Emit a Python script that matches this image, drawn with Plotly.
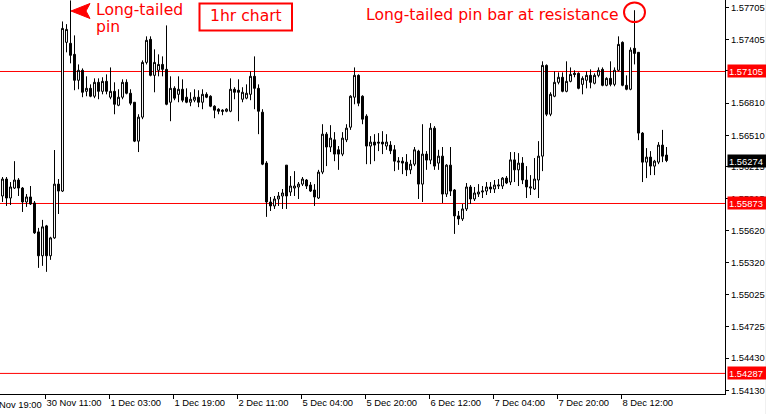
import plotly.graph_objects as go

# ---------------- data (1-hour candles) ----------------
opens = [1.55943,1.56101,1.55924,1.56017,1.56092,1.56017,1.55887,1.55934,1.55878,1.55608,
1.55385,1.55664,1.55385,1.55552,1.56054,1.55989,1.57377,1.57368,1.57265,1.57023,
1.57116,1.56920,1.56948,1.56874,1.57004,1.56920,1.57013,1.56865,1.56920,1.56790,
1.56865,1.57004,1.56902,1.56818,1.56455,1.56679,1.57190,1.57405,1.57069,1.57116,
1.57171,1.57125,1.56818,1.56948,1.56892,1.56939,1.56865,1.56818,1.56837,1.56865,
1.56818,1.56892,1.56874,1.56781,1.56753,1.56744,1.56734,1.56734,1.56939,1.56930,
1.56846,1.56856,1.56892,1.57060,1.56948,1.56725,1.56250,1.55887,1.55850,1.55915,
1.55943,1.56231,1.55980,1.56017,1.56027,1.56054,1.56092,1.56045,1.55999,1.55924,
1.56166,1.56520,1.56400,1.56467,1.56374,1.56334,1.56467,1.56585,1.56865,1.57069,
1.56874,1.56688,1.56409,1.56446,1.56446,1.56446,1.56409,1.56418,1.56374,1.56259,
1.56268,1.56259,1.56187,1.56240,1.56362,1.56054,1.56334,1.56278,1.56576,1.56250,
1.56315,1.55961,1.56231,1.55999,1.55757,1.55729,1.55822,1.56027,1.55915,1.55961,
1.55980,1.55989,1.56027,1.56008,1.56036,1.56036,1.56110,1.56073,1.56280,1.56187,
1.56250,1.56092,1.56017,1.56008,1.56092,1.56315,1.57162,1.56706,1.56874,1.57004,
1.57051,1.56920,1.57013,1.57088,1.57088,1.56985,1.57023,1.57069,1.56995,1.57069,
1.57125,1.56976,1.57041,1.56985,1.57116,1.57377,1.56976,1.56939,1.57321,1.57284,
1.56530,1.56259,1.56306,1.56222,1.56259,1.56418,1.56325]
highs = [1.56120,1.56120,1.56073,1.56268,1.56110,1.56027,1.55961,1.56036,1.55896,1.55645,
1.55720,1.55673,1.55562,1.56372,1.56101,1.57572,1.57547,1.57768,1.57442,1.57171,
1.57134,1.57060,1.56985,1.57041,1.57041,1.57051,1.57078,1.57143,1.57004,1.56939,
1.57032,1.57032,1.56939,1.56818,1.56706,1.57209,1.57433,1.57433,1.57312,1.57265,
1.57246,1.57535,1.57060,1.56967,1.57060,1.57032,1.56948,1.56911,1.56939,1.56930,
1.56939,1.56911,1.56883,1.56790,1.56762,1.56753,1.56762,1.57041,1.56958,1.57032,
1.56958,1.56985,1.57106,1.57246,1.56985,1.56753,1.56268,1.55934,1.55943,1.55980,
1.56008,1.56231,1.56129,1.56175,1.56073,1.56120,1.56101,1.56073,1.56054,1.56187,
1.56613,1.56539,1.56604,1.56539,1.56409,1.56539,1.56613,1.56883,1.57143,1.57078,
1.56883,1.56706,1.56502,1.56520,1.56530,1.56548,1.56520,1.56455,1.56418,1.56306,
1.56306,1.56334,1.56280,1.56400,1.56374,1.56613,1.56362,1.56623,1.56595,1.56374,
1.56400,1.56240,1.56400,1.56008,1.55803,1.55868,1.56064,1.56045,1.56027,1.56054,
1.56036,1.56073,1.56073,1.56092,1.56101,1.56120,1.56129,1.56353,1.56353,1.56343,
1.56306,1.56222,1.56138,1.56297,1.56455,1.57200,1.57171,1.56911,1.57106,1.57097,
1.57097,1.57200,1.57143,1.57116,1.57097,1.57060,1.57106,1.57125,1.57088,1.57143,
1.57143,1.57051,1.57200,1.57143,1.57433,1.57386,1.57069,1.57330,1.57677,1.57284,
1.56539,1.56390,1.56362,1.56280,1.56446,1.56560,1.56400]
lows = [1.55887,1.55850,1.55859,1.56008,1.55943,1.55794,1.55841,1.55859,1.55589,1.55272,
1.55291,1.55235,1.55347,1.55543,1.55775,1.55980,1.57284,1.57181,1.56930,1.56939,
1.56865,1.56874,1.56865,1.56856,1.56846,1.56892,1.56892,1.56846,1.56706,1.56781,
1.56846,1.56892,1.56790,1.56446,1.56353,1.56660,1.57171,1.57060,1.56911,1.57060,
1.57060,1.56790,1.56641,1.56837,1.56818,1.56818,1.56809,1.56781,1.56818,1.56772,
1.56753,1.56856,1.56772,1.56669,1.56706,1.56697,1.56725,1.56725,1.56846,1.56641,
1.56818,1.56846,1.56837,1.56753,1.56520,1.56231,1.55748,1.55803,1.55822,1.55850,
1.55822,1.55822,1.55943,1.55943,1.55915,1.56036,1.56008,1.55980,1.55850,1.55915,
1.56147,1.56222,1.56353,1.56268,1.56187,1.56315,1.56446,1.56560,1.56799,1.56781,
1.56613,1.56240,1.56240,1.56268,1.56362,1.56334,1.56374,1.56334,1.56175,1.56187,
1.56147,1.56129,1.56147,1.56222,1.55915,1.55887,1.56187,1.56240,1.56187,1.56187,
1.55878,1.55934,1.55943,1.55589,1.55673,1.55710,1.55803,1.55868,1.55896,1.55934,
1.55924,1.55952,1.55971,1.55971,1.56008,1.56008,1.56054,1.56045,1.56073,1.56036,
1.56054,1.55924,1.55952,1.55999,1.55924,1.56175,1.56688,1.56688,1.56865,1.56985,
1.56911,1.56911,1.57004,1.57051,1.56939,1.56892,1.56948,1.56948,1.56985,1.57051,
1.56967,1.56967,1.56967,1.56967,1.57106,1.56967,1.56930,1.56930,1.57171,1.56464,
1.56073,1.56110,1.56138,1.56138,1.56240,1.56259,1.56259]
closes = [1.56101,1.55924,1.56027,1.56092,1.56017,1.55887,1.55934,1.55868,1.55599,1.55385,
1.55655,1.55385,1.55552,1.56054,1.55989,1.57507,1.57498,1.57256,1.57023,1.57116,
1.56911,1.56948,1.56874,1.57004,1.56920,1.57013,1.56920,1.56920,1.56799,1.56865,
1.57004,1.56902,1.56809,1.56455,1.56679,1.57190,1.57396,1.57069,1.57190,1.57171,
1.57125,1.56799,1.56948,1.56856,1.56939,1.56837,1.56818,1.56846,1.56865,1.56818,
1.56892,1.56865,1.56781,1.56744,1.56734,1.56734,1.56753,1.56939,1.56911,1.56911,
1.56911,1.56902,1.57060,1.56948,1.56734,1.56240,1.55887,1.55850,1.55915,1.55943,
1.55971,1.55943,1.56036,1.56036,1.56054,1.56101,1.56036,1.55989,1.55934,1.56166,
1.56520,1.56400,1.56483,1.56334,1.56334,1.56483,1.56576,1.56874,1.57069,1.56809,
1.56660,1.56409,1.56446,1.56418,1.56437,1.56428,1.56446,1.56365,1.56268,1.56268,
1.56250,1.56187,1.56240,1.56374,1.56054,1.56334,1.56278,1.56576,1.56222,1.56315,
1.55961,1.56231,1.55989,1.55757,1.55729,1.55822,1.56027,1.55915,1.55971,1.55980,
1.55989,1.56027,1.56008,1.56045,1.56045,1.56110,1.56064,1.56280,1.56187,1.56250,
1.56092,1.56027,1.56027,1.56101,1.56315,1.57162,1.56706,1.56892,1.57004,1.57051,
1.56920,1.57013,1.57078,1.57078,1.56948,1.57041,1.57069,1.57004,1.57069,1.57116,
1.56976,1.57041,1.56985,1.57116,1.57358,1.56976,1.56939,1.57305,1.57274,1.56530,
1.56259,1.56306,1.56222,1.56268,1.56418,1.56315,1.56274]

bars = list(range(len(opens)))

x_tick_labels = ["30 Nov 11:00", "1 Dec 03:00", "1 Dec 19:00", "2 Dec 11:00",
                 "5 Dec 04:00", "5 Dec 20:00", "6 Dec 12:00", "7 Dec 04:00",
                 "7 Dec 20:00", "8 Dec 12:00"]
x_tick_bars = [11, 27, 43, 59, 75, 91, 107, 123, 139, 155]
first_label = "29 Nov 19:00"
first_label_bar = -5

y_ticks = [1.57705, 1.57405, 1.57110, 1.56810, 1.56510, 1.56215, 1.55915,
           1.55620, 1.55320, 1.55025, 1.54725, 1.54430, 1.54130]
levels = [1.57105, 1.55873, 1.54287]
last_price = 1.56274
pin_bar = 158

# ---------------- layout geometry ----------------
W, H = 766, 414
PW, PH = 725, 394          # plot area in pixels
X_RANGE = [-0.625, 180.625]
Y_TOP = 1.577723
Y_RANGE = [Y_TOP - PH / 10714.0, Y_TOP]
RED = "#ff0000"
AX_FAMILY = "Liberation Sans, Arial, sans-serif"
AX_FONT = dict(family=AX_FAMILY, size=9.4, color="black")
TXT_FONT = dict(family="DejaVu Sans, Verdana, sans-serif", size=15.6, color=RED)

def px(xp):
    return xp / PW

def py(yp):
    return 1 - yp / PH

fig = go.Figure()
fig.add_trace(go.Candlestick(
    x=bars, open=opens, high=highs, low=lows, close=closes,
    increasing=dict(line=dict(color="black", width=1), fillcolor="white"),
    decreasing=dict(line=dict(color="black", width=1), fillcolor="black"),
    whiskerwidth=0, hoverinfo="skip", showlegend=False,
))

shapes = []
for lv in levels:
    shapes.append(dict(type="line", xref="paper", yref="y", x0=0, x1=1, y0=lv, y1=lv,
                       line=dict(color=RED, width=1), layer="below"))
# "1hr chart" box
shapes.append(dict(type="rect", xref="paper", yref="paper",
                   x0=px(199.5), x1=px(292), y0=py(3.5), y1=py(30.5),
                   line=dict(color=RED, width=2)))
# circle around the pin bar top
shapes.append(dict(type="circle", xref="paper", yref="paper",
                   x0=px(624), x1=px(645), y0=py(2.5), y1=py(22),
                   line=dict(color=RED, width=2)))
# arrow head pointing at the long-tailed pin
ax_tip, ay_tip = 71, 11
arrow_path = "M {},{} L {},{} L {},{} L {},{} Z".format(
    px(ax_tip), py(ay_tip), px(90), py(3.5), px(86), py(ay_tip), px(90), py(18.5))
shapes.append(dict(type="path", xref="paper", yref="paper", path=arrow_path,
                   fillcolor=RED, line=dict(color=RED, width=1)))
# window frame strip at the right
shapes.append(dict(type="rect", xref="paper", yref="paper",
                   x0=px(765), x1=px(770), y0=-0.2, y1=1.1,
                   fillcolor="#f0f0f0", line=dict(width=0)))

annotations = []
annotations.append(dict(xref="paper", yref="paper", x=px(94), y=py(10.5), text="Long-tailed",
                        showarrow=False, xanchor="left", yanchor="middle", font=TXT_FONT))
annotations.append(dict(xref="paper", yref="paper", x=px(94), y=py(27.5), text="pin",
                        showarrow=False, xanchor="left", yanchor="middle", font=TXT_FONT))
annotations.append(dict(xref="paper", yref="paper", x=px(208), y=py(16), text="1hr chart",
                        showarrow=False, xanchor="left", yanchor="middle", font=TXT_FONT))
annotations.append(dict(xref="paper", yref="paper", x=px(364), y=py(15),
                        text="Long-tailed pin bar at resistance",
                        showarrow=False, xanchor="left", yanchor="middle", font=TXT_FONT))
# price boxes on the right scale
for lv in levels:
    annotations.append(dict(xref="paper", yref="y", x=1, y=lv, xanchor="left", yanchor="middle",
                            xshift=2, text=f"{lv:.5f}", showarrow=False, bgcolor=RED,
                            width=36, height=10, borderpad=1, align="left",
                            font=dict(family=AX_FAMILY, size=9.4, color="white")))
annotations.append(dict(xref="paper", yref="y", x=1, y=last_price, xanchor="left",
                        yanchor="middle", xshift=2, text=f"{last_price:.5f}", showarrow=False,
                        bgcolor="black", width=36, height=10, borderpad=1, align="left",
                        font=dict(family=AX_FAMILY, size=9.4, color="white")))
# partially visible first time label
annotations.append(dict(xref="paper", yref="paper",
                        x=(first_label_bar - 0.25 - X_RANGE[0]) * 4 / PW, y=py(404),
                        xanchor="left", yanchor="middle", xshift=2, text=first_label,
                        showarrow=False, font=AX_FONT))

fig.update_layout(
    width=W, height=H,
    margin=dict(l=0, r=W - PW, t=0, b=H - PH, pad=0),
    paper_bgcolor="white", plot_bgcolor="white",
    shapes=shapes, annotations=annotations,
    showlegend=False, hovermode=False,
    xaxis=dict(range=X_RANGE, rangeslider=dict(visible=False), showgrid=False, zeroline=False,
               tickmode="array", tickvals=[b - 0.25 for b in x_tick_bars], ticktext=x_tick_labels,
               ticks="outside", ticklen=4, tickcolor="black", tickwidth=1,
               ticklabelposition="outside right",
               showline=True, linecolor="black", linewidth=1, tickfont=AX_FONT, fixedrange=True),
    yaxis=dict(range=Y_RANGE, side="right", showgrid=False, zeroline=False,
               tickmode="array", tickvals=y_ticks, ticktext=[f"{v:.5f}" for v in y_ticks],
               ticks="outside", ticklen=3, tickcolor="black", tickwidth=1,
               showline=True, linecolor="black", linewidth=1, tickfont=AX_FONT, fixedrange=True),
)

fig.write_html("out.html")
